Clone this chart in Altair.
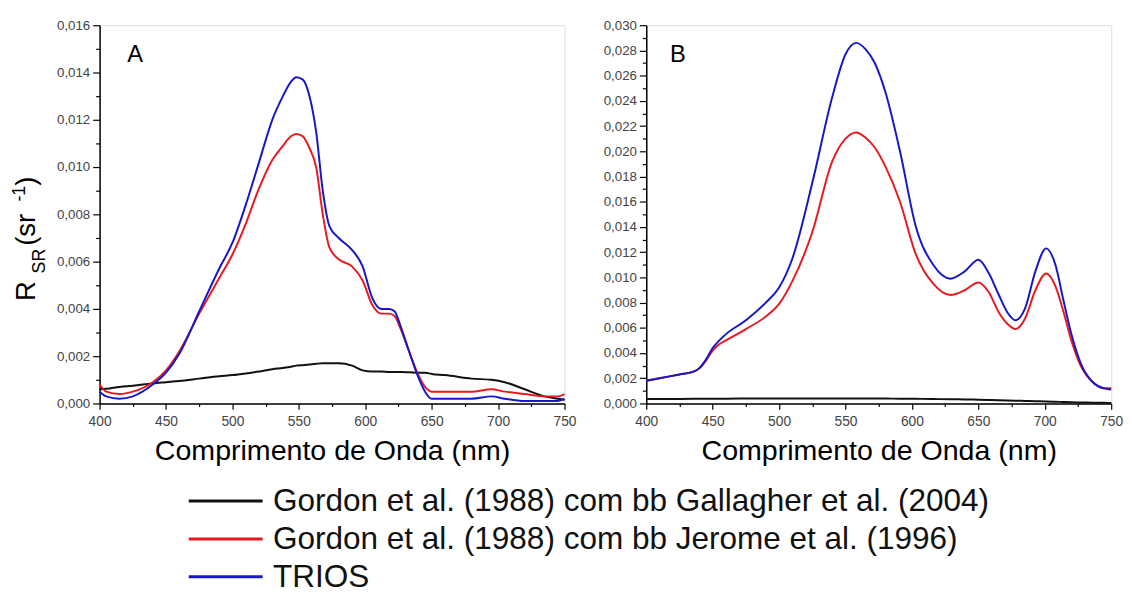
import altair as alt
import pandas as pd

series_names = [
    "Gordon et al. (1988) com bb Gallagher et al. (2004)",
    "Gordon et al. (1988) com bb Jerome et al. (1996)",
    "TRIOS",
]
series_colors = ["#111111", "#e8191f", "#1717c8"]

# Panel A
wl_a = [400, 405, 415, 425, 440, 450, 460, 475, 490, 500, 510, 520, 530, 538, 544, 548, 553,
        558, 563, 568, 573, 580, 590, 598, 605, 612, 618, 622, 627, 633, 640, 645, 650,
        660, 680, 695, 705, 720, 735, 745, 750]
black_a = [0.0006, 0.00062, 0.0007, 0.00075, 0.00085, 0.0009, 0.00095, 0.00105, 0.00115, 0.0012,
           0.00127, 0.00135, 0.00145, 0.0015, 0.00155, 0.0016, 0.00162, 0.00165, 0.00168, 0.0017,
           0.0017, 0.0017, 0.0016, 0.0014, 0.00135, 0.00135, 0.00133, 0.00133, 0.00133, 0.00132,
           0.0013, 0.0013, 0.00125, 0.0012, 0.00105, 0.001, 0.0009, 0.0006, 0.0003, 0.0002, 0.00015]
red_a = [0.0008, 0.0005, 0.0004, 0.0005, 0.0009, 0.0014, 0.0022, 0.0038, 0.0053, 0.0063,
         0.0076, 0.0091, 0.0103, 0.0109, 0.0113, 0.0114, 0.0113, 0.0108, 0.0100, 0.0080,
         0.0066, 0.0061, 0.0058, 0.0052, 0.0042, 0.0038, 0.0038, 0.0037, 0.0031, 0.0022,
         0.0012, 0.0007, 0.0005, 0.0005, 0.0005, 0.0006, 0.0005, 0.0004, 0.0003, 0.0003, 0.0004]
blue_a = [0.0005, 0.0003, 0.0002, 0.0003, 0.0008, 0.0013, 0.0021, 0.0039, 0.0057, 0.0068,
          0.0084, 0.0102, 0.0120, 0.0130, 0.0136, 0.0138, 0.0137, 0.0130, 0.0115, 0.0090,
          0.0075, 0.0070, 0.0065, 0.0058, 0.0045, 0.0040, 0.0040, 0.0039, 0.0032, 0.0022,
          0.0011, 0.0005, 0.0002, 0.0002, 0.0002, 0.0003, 0.0002, 0.0001, 0.0001, 0.0001, 0.0002]

# Panel B
wl_b = [400, 410, 425, 435, 440, 445, 450, 455, 460, 475, 490, 500, 510, 525, 540, 550, 558,
        565, 572, 580, 591, 603, 616, 629, 640, 650, 658, 665, 672, 678, 685, 693, 701, 708,
        714, 720, 727, 737, 745, 750]
black_b = [0.00035, 0.00035, 0.00036, 0.00037, 0.00037, 0.00038, 0.00038, 0.00038, 0.00038, 0.00039,
           0.0004, 0.0004, 0.0004, 0.0004, 0.0004, 0.0004, 0.0004, 0.0004, 0.0004, 0.00039,
           0.00038, 0.00037, 0.00035, 0.00033, 0.00032, 0.0003, 0.00028, 0.00026, 0.00024, 0.00022,
           0.0002, 0.00018, 0.00015, 0.00013, 0.00012, 0.0001, 0.00008, 0.00006, 0.00005, 0.00004]
red_b = [0.0018, 0.0020, 0.0023, 0.0025, 0.0028, 0.0034, 0.0042, 0.0047, 0.0050, 0.0059,
         0.0069, 0.0079, 0.0097, 0.0136, 0.0192, 0.0210, 0.0215, 0.0211, 0.0203, 0.0188,
         0.0160, 0.0118, 0.0095, 0.0086, 0.0090, 0.0096, 0.0088, 0.0073, 0.0063, 0.0059,
         0.0067, 0.0090, 0.0103, 0.0093, 0.0073, 0.0050, 0.0030, 0.0016, 0.0012, 0.0012]
blue_b = [0.0018, 0.0020, 0.0023, 0.0025, 0.0028, 0.0035, 0.0044, 0.0050, 0.0055, 0.0066,
          0.0080, 0.0092, 0.0115, 0.0175, 0.0243, 0.0277, 0.0286, 0.0281, 0.0270, 0.0247,
          0.0200, 0.0140, 0.0110, 0.0099, 0.0105, 0.0114, 0.0103, 0.0087, 0.0072, 0.0066,
          0.0075, 0.0105, 0.0123, 0.0110, 0.0082, 0.0055, 0.0032, 0.0016, 0.0012, 0.0011]

x_ticks = list(range(400, 751, 25))
y_ticks_a = [round(i * 0.001, 3) for i in range(17)]
y_ticks_b = [round(i * 0.001, 3) for i in range(31)]

FONT = "Liberation Sans"


def to_long(wl, k, r, b):
    rows = []
    for name, vals in zip(series_names, [k, r, b]):
        for w, v in zip(wl, vals):
            rows.append({"wl": w, "v": v, "serie": name})
    return pd.DataFrame(rows)


df_a = to_long(wl_a, black_a, red_a, blue_a)
df_b = to_long(wl_b, black_b, red_b, blue_b)

x_axis = alt.Axis(
    values=x_ticks,
    labelExpr="datum.value % 50 == 0 ? toString(datum.value) : ''",
    tickSize={"condition": {"test": "datum.value % 50 == 0", "value": 6}, "value": 3},
    title="Comprimento de Onda (nm)",
    titleFontSize=29, titleFont=FONT, titleFontWeight="normal", titleColor="#000",
    titlePadding=9,
    labelFontSize=14, labelFont=FONT, labelColor="#444", labelPadding=5,
    grid=False, domainColor="#000", domainWidth=1.5, tickColor="#000", tickWidth=1.2,
    labelFlush=False,
)


def y_axis(ticks):
    return alt.Axis(
        values=ticks,
        labelExpr="round(datum.value*1000) % 2 == 0 ? replace(format(datum.value, '.3f'), '.', ',') : ''",
        tickSize={"condition": {"test": "round(datum.value*1000) % 2 == 0", "value": 7}, "value": 4},
        title=None,
        labelFontSize=13.5, labelFont=FONT, labelColor="#444", labelPadding=3,
        grid=False, domainColor="#000", domainWidth=1.5, tickColor="#000", tickWidth=1.2,
        labelFlush=False,
    )


legend = alt.Legend(
    title=None, orient="none", legendX=89, legendY=467, direction="vertical",
    symbolType="stroke", symbolSize=5625, symbolStrokeWidth=3,
    labelFontSize=32, labelFont=FONT, labelColor="#111", labelLimit=1200,
    clipHeight=32, rowPadding=6.5, labelOffset=9,
)

color = alt.Color("serie:N", scale=alt.Scale(domain=series_names, range=series_colors),
                  legend=legend)


def panel(df, y_max, ticks, letter, lx):
    lines = alt.Chart(df).mark_line(strokeWidth=2, interpolate="monotone").encode(
        x=alt.X("wl:Q", scale=alt.Scale(domain=[400, 750], nice=False, zero=False), axis=x_axis),
        y=alt.Y("v:Q", scale=alt.Scale(domain=[0, y_max], nice=False), axis=y_axis(ticks)),
        color=color,
        detail="serie:N",
    )
    lab = alt.Chart(pd.DataFrame({"t": [letter]})).mark_text(
        fontSize=24, font=FONT, align="center", baseline="alphabetic", color="#000"
    ).encode(text="t:N", x=alt.value(lx), y=alt.value(37))
    return lines, lab


def ttext(s, x, y, size):
    return alt.Chart(pd.DataFrame({"t": [s]})).mark_text(
        fontSize=size, font=FONT, align="left", baseline="alphabetic", angle=270, color="#000"
    ).encode(text="t:N", x=alt.value(x), y=alt.value(y))


lines_a, lab_a = panel(df_a, 0.016, y_ticks_a, "A", 36)
lines_b, lab_b = panel(df_b, 0.030, y_ticks_b, "B", 32)

ytitle = [
    ttext("R", -66, 280, 28),
    ttext("SR", -55, 252, 18),
    ttext("(sr", -66, 224, 28),
    ttext("-1", -76, 179, 18),
    ttext(")", -66, 163, 28),
]

chart_a = alt.layer(lines_a, lab_a, *ytitle).properties(width=472, height=384)
chart_b = alt.layer(lines_b, lab_b).properties(width=472, height=384)

chart = alt.hconcat(chart_a, chart_b, spacing=25).properties(
    padding={"left": 2, "top": 5, "right": 0, "bottom": 0}
).configure_view(stroke=None).configure(font=FONT)

chart.save("out.html", embed_options={"renderer": "svg", "actions": False})
